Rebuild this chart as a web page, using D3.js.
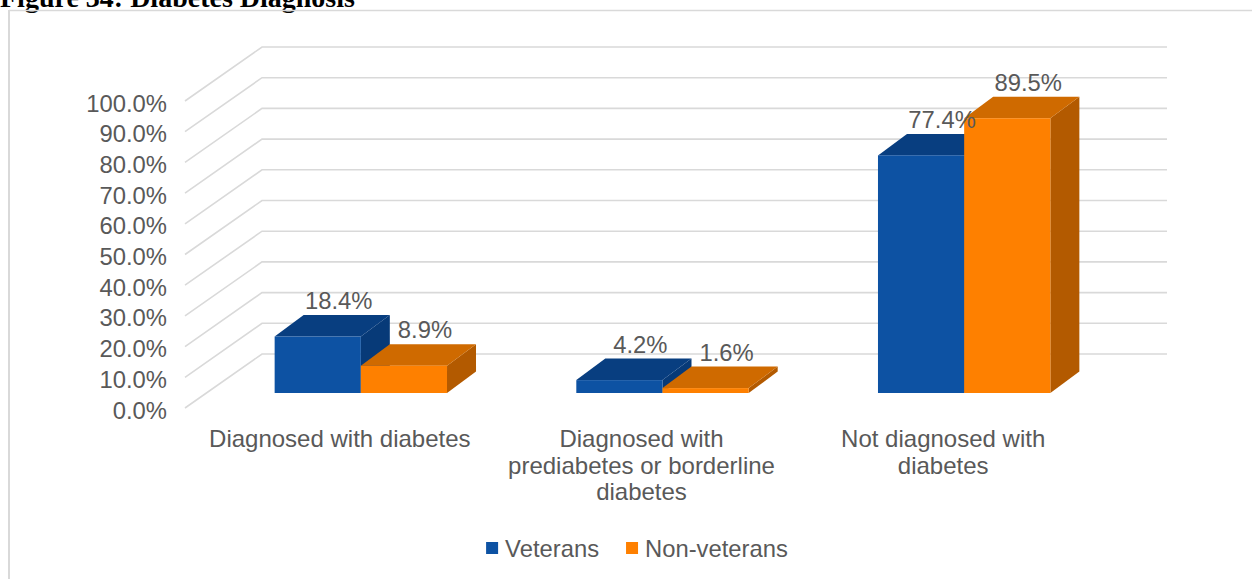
<!DOCTYPE html>
<html>
<head>
<meta charset="utf-8">
<script src="https://cdn.jsdelivr.net/npm/d3@7"></script>
<style>
  html, body { margin: 0; padding: 0; background: #fff; }
  svg { display: block; }
  text { font-family: "Liberation Sans", Arial, sans-serif; fill: #595959; }
</style>
</head>
<body>
<svg id="chart" width="1252" height="579"></svg>
<script>
// Survey results: diabetes diagnosis by veteran status (percent)
const categories = [
  ["Diagnosed with diabetes"],
  ["Diagnosed with", "prediabetes or borderline", "diabetes"],
  ["Not diagnosed with", "diabetes"]
];
const seriesNames = ["Veterans", "Non-veterans"];
const veterans = [18.4, 4.2, 77.4];
const nonVeterans = [8.9, 1.6, 89.5];
const yTicks = [0, 10, 20, 30, 40, 50, 60, 70, 80, 90, 100];

const colors = {
  Veterans:      { front: "#0d52a3", top: "#083e80", side: "#073a78" },
  "Non-veterans": { front: "#fe8000", top: "#cf6a00", side: "#b35a00" }
};

const svg = d3.select("#chart");
const W = 1252, H = 579;

// Title (sits above the chart frame)
svg.append("text")
  .attr("x", 0).attr("y", 7)
  .style("font-family", "'Liberation Serif', 'Times New Roman', serif")
  .style("font-weight", "bold")
  .style("font-size", "28px")
  .style("fill", "#000")
  .text("Figure 34: Diabetes Diagnosis");

// Chart frame
svg.append("line").attr("x1", 9).attr("x2", W).attr("y1", 10.5).attr("y2", 10.5)
  .attr("stroke", "#d9d9d9").attr("stroke-width", 1.5);
svg.append("line").attr("x1", 9).attr("x2", 9).attr("y1", 10).attr("y2", H)
  .attr("stroke", "#d9d9d9").attr("stroke-width", 2);

// 3D geometry: front plane and depth offsets
const wallDX = 77, wallDY = 54;        // depth of the side/back walls
const barShiftX = 21, barShiftY = 15;  // bars sit slightly back from the front edge
const barDX = 29, barDY = 21.5;        // bar depth

const y = d3.scaleLinear().domain([0, 100]).range([408, 101]);
const floorLeft = 185;
const x0 = d3.scaleBand()
  .domain(d3.range(categories.length))
  .range([189, 1094])
  .paddingInner(1.5 / 3.5)
  .paddingOuter(0.75 / 3.5);
const x1 = d3.scaleBand().domain(seriesNames).range([0, x0.bandwidth()]);

// Gridlines: diagonal on the side wall, horizontal on the back wall
const grid = svg.append("g").attr("stroke", "#d9d9d9").attr("stroke-width", 1.6).attr("fill", "none");
const backRight = 1167;
yTicks.forEach(t => {
  grid.append("path")
    .attr("d", d3.line()([
      [floorLeft, y(t)],
      [floorLeft + wallDX, y(t) - wallDY],
      [backRight, y(t) - wallDY]
    ]));
});

// Y axis labels
svg.append("g").selectAll("text")
  .data(yTicks)
  .join("text")
  .attr("x", 167)
  .attr("y", d => y(d) + 2)
  .attr("text-anchor", "end")
  .attr("dominant-baseline", "central")
  .style("font-size", "23.8px")
  .text(d => d3.format(".1f")(d) + "%");

// Bars
const rows = categories.map((c, i) => ({
  i,
  values: [
    { series: "Veterans", value: veterans[i] },
    { series: "Non-veterans", value: nonVeterans[i] }
  ]
}));

const bars = svg.append("g");
const labels = svg.append("g");
rows.forEach(row => {
  row.values.forEach(d => {
    const c = colors[d.series];
    const x = x0(row.i) + x1(d.series) + barShiftX;
    const w = x1.bandwidth();
    const yb = y(0) - barShiftY;
    const yt = y(d.value) - barShiftY;
    const g = bars.append("g");
    // right side face
    g.append("path").attr("fill", c.side)
      .attr("d", d3.line()([[x + w, yt], [x + w + barDX, yt - barDY], [x + w + barDX, yb - barDY], [x + w, yb]]) + "Z");
    // top face
    g.append("path").attr("fill", c.top)
      .attr("d", d3.line()([[x, yt], [x + barDX, yt - barDY], [x + w + barDX, yt - barDY], [x + w, yt]]) + "Z");
    // front face
    g.append("rect").attr("fill", c.front)
      .attr("x", x).attr("y", yt).attr("width", w).attr("height", yb - yt);
    labels.append("text")
      .attr("x", x + w / 2 + 21)
      .attr("y", yt - barDY - 6)
      .attr("text-anchor", "middle")
      .style("font-size", "23.8px")
      .text(d3.format(".1f")(d.value) + "%");
  });
});

// Category labels
const catG = svg.append("g");
categories.forEach((lines, i) => {
  const cx = x0(i) + x0.bandwidth() / 2;
  const t = catG.append("text").attr("text-anchor", "middle").style("font-size", "24px");
  lines.forEach((ln, k) => {
    t.append("tspan").attr("x", cx).attr("y", 447 + k * 26.5).text(ln);
  });
});

// Legend
const legend = svg.append("g");
let lx = 0;
const items = [];
seriesNames.forEach((s, k) => {
  const g = legend.append("g");
  g.append("rect").attr("x", 0).attr("y", -6).attr("width", 12).attr("height", 12).attr("fill", colors[s].front);
  const t = g.append("text").attr("x", 19).attr("y", 0).attr("dominant-baseline", "central")
    .style("font-size", "23.8px").text(s);
  const wdt = 19 + t.node().getComputedTextLength();
  items.push({ g, wdt });
});
const gap = 27;
const total = items.reduce((a, b) => a + b.wdt, 0) + gap * (items.length - 1);
lx = 637 - total / 2;
items.forEach(it => {
  it.g.attr("transform", `translate(${lx},548)`);
  lx += it.wdt + gap;
});
</script>
</body>
</html>
